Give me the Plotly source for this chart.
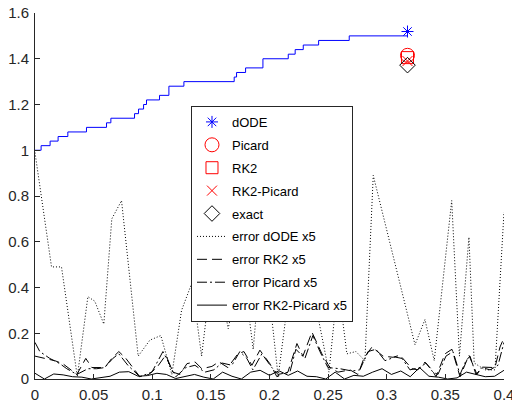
import plotly.graph_objects as go

# ---------------- data ----------------
# dODE staircase: jump times and levels
stair_t = [0.0, 0.0052, 0.0129, 0.0197, 0.0280, 0.0439, 0.0610, 0.0647, 0.0849, 0.0883,
           0.0926, 0.0951, 0.1062, 0.1142, 0.1270, 0.1699, 0.1719, 0.1796, 0.1944, 0.2160,
           0.2219, 0.2288, 0.2419, 0.2680, 0.3180]
stair_y = [1.00, 1.02, 1.04, 1.06, 1.08, 1.10, 1.12, 1.14, 1.16, 1.18,
           1.20, 1.22, 1.24, 1.28, 1.30, 1.32, 1.34, 1.36, 1.40, 1.42,
           1.44, 1.46, 1.48, 1.50, 1.50]

# final values at t_end
t_end = [0.3177]
dode_end = [1.519]
picard_end = [1.415]
rk2_end = [1.405]
rk2picard_end = [1.39]
exact_end = [1.372]

# error dODE x5 (dotted)
err_dode_t = [0.0, 0.0141, 0.0226, 0.0361, 0.0451, 0.0510, 0.0587, 0.0655, 0.0738, 0.0880,
              0.0980, 0.1073, 0.1167, 0.1250, 0.1338, 0.1421, 0.1526, 0.1648, 0.1765, 0.1861,
              0.1944, 0.2074, 0.2217, 0.2345, 0.2507, 0.2584, 0.2660, 0.2737, 0.2814, 0.2885,
              0.3241, 0.3326, 0.3405, 0.3554, 0.3620, 0.3701, 0.3746, 0.3838, 0.3923, 0.4000]
err_dode = [0.99, 0.49, 0.49, 0.01, 0.36, 0.34, 0.24, 0.70, 0.78, 0.10,
            0.17, 0.19, 0.02, 0.30, 0.42, 0.10, 0.55, 0.22, 0.52, 0.13,
            0.62, 0.01, 0.58, 0.45, 0.03, 0.42, 0.11, 0.12, 0.08, 0.89,
            0.15, 0.26, 0.08, 0.78, 0.10, 0.62, 0.07, 0.04, 0.04, 0.73]

# error RK2 x5 (dashed)
err_rk2_t = [0.0, 0.0084, 0.0169, 0.0237, 0.0357, 0.0433, 0.0485, 0.0595, 0.0655, 0.0715,
             0.0775, 0.0894, 0.0971, 0.1039, 0.1116, 0.1176, 0.1236, 0.1296, 0.1364, 0.1423,
             0.1509, 0.1568, 0.1645, 0.1730, 0.1782, 0.1850, 0.1918, 0.2003, 0.2063, 0.2157,
             0.2234, 0.2285, 0.2362, 0.2447, 0.2515, 0.2584, 0.2686, 0.2754, 0.2805, 0.2874,
             0.2968, 0.3053, 0.3113, 0.3215, 0.3266, 0.3326, 0.3386, 0.3420, 0.3497, 0.3556,
             0.3625, 0.3701, 0.3770, 0.3812, 0.3923, 0.3966, 0.4000]
err_rk2 = [0.10, 0.09, 0.08, 0.067, 0.02, 0.09, 0.05, 0.05, 0.09, 0.12,
           0.09, 0.01, 0.02, 0.05, 0.105, 0.03, 0.02, 0.067, 0.075, 0.045,
           0.055, 0.075, 0.05, 0.11, 0.12, 0.06, 0.126, 0.067, 0.01, 0.03,
           0.155, 0.10, 0.205, 0.11, 0.05, 0.03, 0.04, 0.02, 0.09, 0.14,
           0.10, 0.095, 0.104, 0.045, 0.04, 0.074, 0.04, 0.01, 0.11, 0.13,
           0.01, 0.104, 0.02, 0.052, 0.05, 0.14, 0.18]

# error Picard x5 (dash-dot)
err_pic_t = [0.0, 0.0041, 0.0126, 0.0212, 0.0271, 0.0357, 0.0451, 0.0527, 0.0595, 0.0664,
             0.0715, 0.0792, 0.0894, 0.0997, 0.1091, 0.1201, 0.1287, 0.1364, 0.1449, 0.1526,
             0.1594, 0.1679, 0.1747, 0.1807, 0.1858, 0.1935, 0.2020, 0.2072, 0.2174, 0.2225,
             0.2302, 0.2370, 0.2430, 0.2498, 0.2601, 0.2703, 0.2771, 0.2840, 0.2908, 0.2985,
             0.3070, 0.3130, 0.3198, 0.3283, 0.3334, 0.3394, 0.3437, 0.3505, 0.3565, 0.3625,
             0.3676, 0.3710, 0.3761, 0.3812, 0.3881, 0.3949, 0.4000]
err_pic = [0.16, 0.12, 0.09, 0.067, 0.045, 0.02, 0.045, 0.045, 0.05, 0.09,
           0.11, 0.06, 0.01, 0.03, 0.12, 0.01, 0.05, 0.06, 0.03, 0.04,
           0.07, 0.06, 0.12, 0.09, 0.04, 0.11, 0.05, 0.02, 0.03, 0.13,
           0.09, 0.19, 0.12, 0.05, 0.045, 0.035, 0.04, 0.12, 0.13, 0.08,
           0.096, 0.09, 0.04, 0.05, 0.07, 0.03, 0.02, 0.10, 0.12, 0.02,
           0.08, 0.10, 0.02, 0.05, 0.04, 0.06, 0.16]

# error RK2-Picard x5 (solid)
err_rp_t = [0.000, 0.008, 0.016, 0.024, 0.032, 0.040, 0.048, 0.056, 0.064, 0.072,
            0.080, 0.088, 0.096, 0.104, 0.112, 0.120, 0.128, 0.136, 0.144, 0.152,
            0.160, 0.168, 0.176, 0.184, 0.192, 0.200, 0.208, 0.216, 0.224, 0.232,
            0.240, 0.248, 0.256, 0.264, 0.272, 0.280, 0.288, 0.296, 0.304, 0.312,
            0.320, 0.328, 0.336, 0.344, 0.352, 0.360, 0.368, 0.376, 0.384, 0.392, 0.400]
err_rp = [0.025, 0.0, 0.022, 0.018, 0.01, 0.008, 0.0, 0.005, 0.012, 0.03,
          0.032, 0.012, 0.015, 0.025, 0.02, 0.002, 0.01, 0.02, 0.008, 0.0,
          0.03, 0.012, 0.0, 0.03, 0.038, 0.016, 0.036, 0.016, 0.035, 0.012,
          0.01, 0.0, 0.03, 0.0, 0.016, 0.012, 0.03, 0.045, 0.02, 0.035,
          0.01, 0.05, 0.012, 0.008, 0.0, 0.005, 0.03, 0.02, 0.01, 0.012, 0.038]

x_ticks = [0, 0.05, 0.1, 0.15, 0.2, 0.25, 0.3, 0.35, 0.4]
y_ticks = [0, 0.2, 0.4, 0.6, 0.8, 1.0, 1.2, 1.4, 1.6]

# ---------------- figure ----------------
AX = "#262626"
FONT = "Liberation Sans, Arial, Helvetica, sans-serif"

fig = go.Figure()

fig.add_trace(go.Scatter(x=stair_t, y=stair_y, mode="lines", line_shape="hv",
                         line=dict(color="#0000ff", width=1), showlegend=False,
                         hoverinfo="skip"))

fig.add_trace(go.Scatter(x=t_end, y=dode_end, mode="markers", name="dODE", legendgroup="a",
                         marker=dict(symbol="asterisk-open", size=10, color="#0000ff",
                                     line=dict(color="#0000ff", width=1))))
fig.add_trace(go.Scatter(x=t_end, y=picard_end, mode="markers", name="Picard", legendgroup="b",
                         marker=dict(symbol="circle-open", size=14, color="#ff0000",
                                     line=dict(color="#ff0000", width=1))))
fig.add_trace(go.Scatter(x=t_end, y=rk2_end, mode="markers", name="RK2", legendgroup="c",
                         marker=dict(symbol="square-open", size=12, color="#ff0000",
                                     line=dict(color="#ff0000", width=1))))
fig.add_trace(go.Scatter(x=t_end, y=rk2picard_end, mode="markers", name="RK2-Picard", legendgroup="d",
                         marker=dict(symbol="x-thin-open", size=10, color="#ff0000",
                                     line=dict(color="#ff0000", width=1))))
fig.add_trace(go.Scatter(x=t_end, y=exact_end, mode="markers", name="exact", legendgroup="e",
                         marker=dict(symbol="diamond-open", size=12, color="#000000",
                                     line=dict(color="#000000", width=1))))

fig.add_trace(go.Scatter(x=err_dode_t, y=err_dode, mode="lines", name="error dODE x5", legendgroup="f",
                         line=dict(color="#000000", width=1, dash="1px,2px")))
fig.add_trace(go.Scatter(x=err_rk2_t, y=err_rk2, mode="lines", name="error RK2 x5", legendgroup="g",
                         line=dict(color="#000000", width=1, dash="10px,5px")))
fig.add_trace(go.Scatter(x=err_pic_t, y=err_pic, mode="lines", name="error Picard x5", legendgroup="h",
                         line=dict(color="#000000", width=1, dash="10px,3px,2px,3px")))
fig.add_trace(go.Scatter(x=err_rp_t, y=err_rp, mode="lines", name="error RK2-Picard x5", legendgroup="i",
                         line=dict(color="#000000", width=1)))

fig.update_layout(
    width=512, height=404,
    margin=dict(l=35, r=8, t=13, b=25, pad=0, autoexpand=False),
    paper_bgcolor="white", plot_bgcolor="white",
    font=dict(family=FONT, size=15, color=AX),
    showlegend=True,
    legend=dict(x=0.3326, y=0.746, xanchor="left", yanchor="top",
                bgcolor="white", bordercolor=AX, borderwidth=1,
                font=dict(family=FONT, size=13, color="#000000"),
                tracegroupgap=3, traceorder="grouped"),
    xaxis=dict(range=[0, 0.40001], tickvals=x_ticks, ticktext=[f"{v:g}" for v in x_ticks],
               showgrid=False, zeroline=False, showline=True, linecolor=AX, linewidth=1,
               ticks="inside", ticklen=5, tickcolor=AX, mirror=False, automargin=False,
               ticklabeloverflow="allow", ticklabelstandoff=2,
               tickfont=dict(family=FONT, size=15, color=AX)),
    yaxis=dict(range=[0, 1.6], tickvals=y_ticks, ticktext=[f"{v:g}" for v in y_ticks],
               showgrid=False, zeroline=False, showline=True, linecolor=AX, linewidth=1,
               ticks="inside", ticklen=5, tickcolor=AX, mirror=False, automargin=False,
               ticklabeloverflow="allow", ticklabelstandoff=2,
               tickfont=dict(family=FONT, size=15, color=AX)),
)

fig.write_html("out.html")
